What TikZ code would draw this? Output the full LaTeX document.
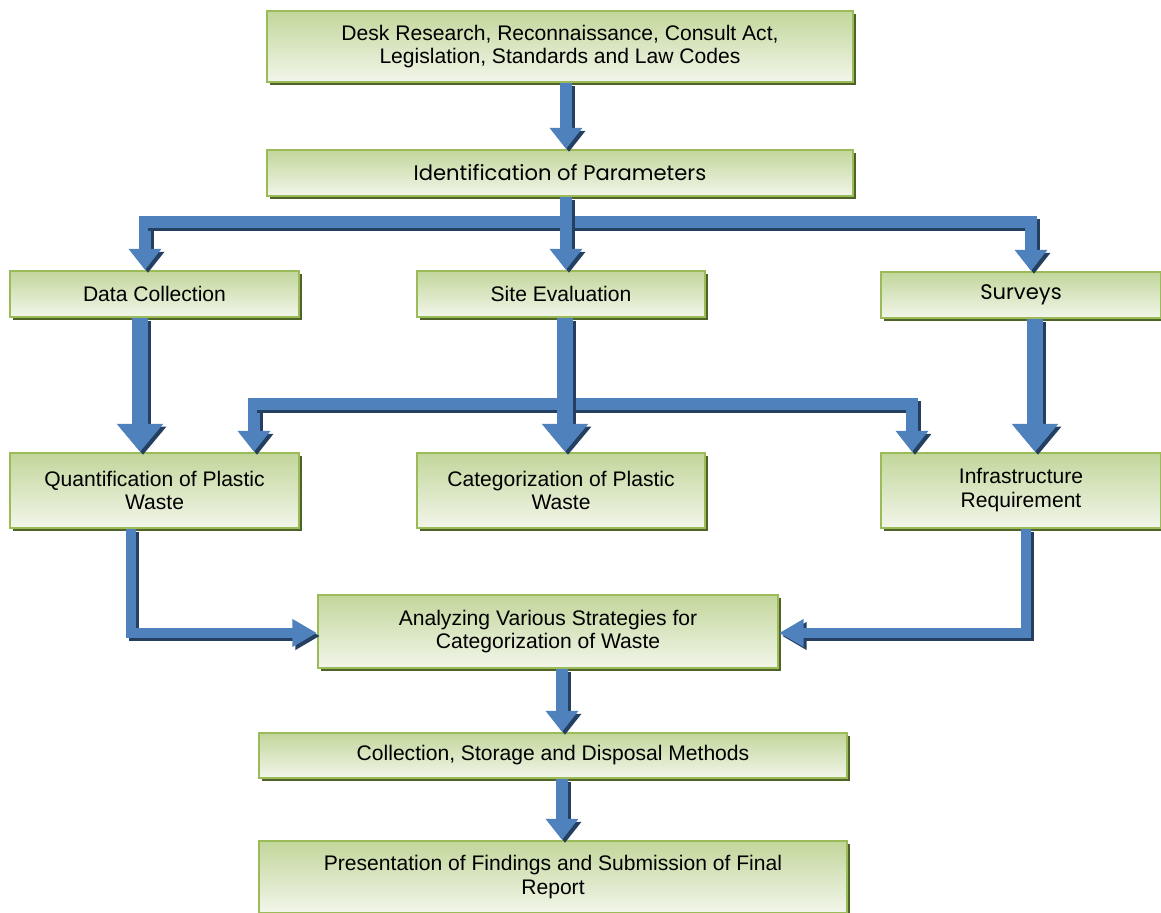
\documentclass[tikz,border=0pt]{standalone}
\usepackage{fontspec}
\setmainfont{Liberation Sans}
\newfontfamily\gothic{Poppins}
\usetikzlibrary{arrows.meta,shadows}

\definecolor{boxtop}{HTML}{C2D69B}
\definecolor{boxbottom}{HTML}{F2F6EA}
\definecolor{boxline}{HTML}{9BBB59}
\definecolor{boxshade}{HTML}{4F6228}
\definecolor{flowblue}{HTML}{4F81BD}
\definecolor{flowdark}{HTML}{243F60}

\tikzset{
  stagebox/.style={draw=boxline, line width=1.3pt, top color=boxtop, bottom color=boxbottom,
    drop shadow={shadow xshift=1.7pt, shadow yshift=-1.7pt, fill=boxshade, opacity=1},
    align=center, inner sep=0pt, font=\fontsize{12}{13.6}\selectfont},
  thinflow/.style={draw=flowblue, line width=7pt, line join=miter,
    -{Triangle[width=18pt,length=12pt]}},
  sideflow/.style={draw=flowblue, line width=5.7pt, line join=miter,
    -{Triangle[width=15pt,length=14pt]}},
  wideflow/.style={draw=flowblue, line width=9.6pt,
    -{Triangle[width=25.5pt,length=16pt]}},
  flowshadow/.style={draw=flowdark, transform canvas={xshift=1.7pt,yshift=-1.7pt}}
}

\newcommand{\flow}[2]{%
  \draw[#1,flowshadow] #2;
  \draw[#1] #2;}

\begin{document}
\begin{tikzpicture}[x=0.02cm, y=-0.02cm]

    \useasboundingbox (0,0) rectangle (1161,913);

    % Stages
    \node[stagebox, minimum width=11.72cm, minimum height=1.42cm] (desk) at (560,46.5)
        {Desk Research, Reconnaissance, Consult Act,\\Legislation, Standards and Law Codes};
    \node[stagebox, minimum width=11.72cm, minimum height=0.92cm] (ident) at (560,173)
        {\gothic Identification of Parameters};

    \node[stagebox, minimum width=5.78cm, minimum height=0.92cm] (datacol) at (154.5,294) {Data Collection};
    \node[stagebox, minimum width=5.76cm, minimum height=0.92cm] (siteeval) at (561,294) {Site Evaluation};
    \node[stagebox, minimum width=5.6cm, minimum height=0.92cm] (surveys) at (1021,295) {\gothic Surveys};

    \node[stagebox, minimum width=5.78cm, minimum height=1.5cm] (quant) at (154.5,490.5)
        {Quantification of Plastic\\Waste};
    \node[stagebox, minimum width=5.76cm, minimum height=1.5cm] (categ) at (561,490.5)
        {Categorization of Plastic\\Waste};
    \node[stagebox, minimum width=5.6cm, minimum height=1.5cm] (infra) at (1021,490.5)
        {Infrastructure\\Requirement};

    \node[stagebox, minimum width=9.2cm, minimum height=1.46cm] (analyze) at (548,631.5)
        {Analyzing Various Strategies for\\Categorization of Waste};
    \node[stagebox, minimum width=11.76cm, minimum height=0.9cm] (collect) at (553,755.5)
        {Collection, Storage and Disposal Methods};
    \node[stagebox, minimum width=11.76cm, minimum height=1.44cm] (present) at (553,877)
        {Presentation of Findings and Submission of Final\\Report};

    % Columns and buses of the arrows
    \coordinate (spine) at (566,0);
    \coordinate (busL) at (145,222);
    \coordinate (busR) at (1031,222);
    \coordinate (leftcol) at (140,0);
    \coordinate (midcol) at (565,0);
    \coordinate (rightcol) at (1035,0);
    \coordinate (busbL) at (254,404);
    \coordinate (busbR) at (912,404);
    \coordinate (lowL) at (131,633);
    \coordinate (lowR) at (1026,633);
    \coordinate (spineb) at (562,0);

    % Top part
    \flow{thinflow}{(desk.south -| spine) -- (ident.north -| spine)}
    \flow{thinflow}{(busR) -- (busL) -- (datacol.north -| busL)}
    \flow{thinflow}{(busL) -- (busR) -- (surveys.north -| busR)}
    \flow{thinflow}{(ident.south -| spine) -- (siteeval.north -| spine)}

    % Middle part
    \flow{thinflow}{(busbR) -- (busbL) -- (quant.north -| busbL)}
    \flow{thinflow}{(busbL) -- (busbR) -- (infra.north -| busbR)}
    \flow{wideflow}{(datacol.south -| leftcol) -- (quant.north -| leftcol)}
    \flow{wideflow}{(siteeval.south -| midcol) -- (categ.north -| midcol)}
    \flow{wideflow}{(surveys.south -| rightcol) -- (infra.north -| rightcol)}

    % Bottom part
    \flow{sideflow}{(quant.south -| lowL) -- (lowL) -- (analyze.west |- lowL)}
    \flow{sideflow}{(infra.south -| lowR) -- (lowR) -- (analyze.east |- lowR)}
    \flow{thinflow}{(analyze.south -| spineb) -- (collect.north -| spineb)}
    \flow{thinflow}{(collect.south -| spineb) -- (present.north -| spineb)}

\end{tikzpicture}
\end{document}
